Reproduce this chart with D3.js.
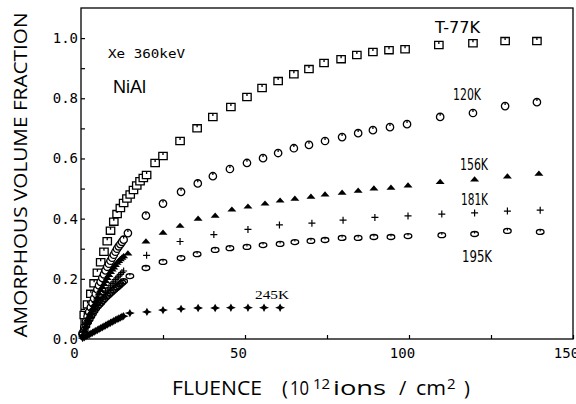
<!DOCTYPE html>
<html>
<head>
<meta charset="utf-8">
<script src="https://cdn.jsdelivr.net/npm/d3@7"></script>
<style>
  body { margin: 0; background: #fff; }
  svg { display: block; }
</style>
</head>
<body>
<div id="chart"></div>
<script>
// fluence (10^12 ions/cm2) and amorphous volume fraction, one pair of arrays per temperature
var x77 = [1, 2, 3, 4, 5, 6, 7, 8, 9, 10, 11, 12, 13, 14, 15, 16, 17, 18, 19, 20, 22.6, 25, 30.2, 35.4, 40.2, 45.7, 50.6, 55.2, 60.1, 64.9, 69.5, 74.1, 79.3, 84.1, 89.0, 93.9, 98.8, 109.1, 119.5, 129.3, 139.0];
var y77 = [0.08, 0.115, 0.15, 0.185, 0.22, 0.255, 0.29, 0.325, 0.36, 0.39, 0.415, 0.435, 0.452, 0.467, 0.48, 0.495, 0.51, 0.524, 0.535, 0.545, 0.585, 0.608, 0.658, 0.70, 0.738, 0.771, 0.804, 0.834, 0.857, 0.880, 0.897, 0.917, 0.930, 0.944, 0.954, 0.960, 0.963, 0.977, 0.983, 0.99, 0.99];

var x120 = [0.5, 1, 1.5, 2, 2.5, 3, 3.5, 4, 4.5, 5, 5.5, 6, 6.5, 7, 7.5, 8, 8.5, 9, 9.5, 10, 10.5, 11, 11.5, 12, 12.5, 13, 14.3, 19.8, 25.0, 30.5, 35.6, 40.2, 45.4, 50.6, 55.5, 60.1, 64.9, 69.5, 74.4, 79.6, 84.5, 89.0, 94.2, 99.4, 109.5, 119.5, 129.3, 139.0];
var y120 = [0.02, 0.04, 0.058, 0.075, 0.09, 0.105, 0.12, 0.135, 0.15, 0.165, 0.178, 0.19, 0.203, 0.215, 0.228, 0.24, 0.25, 0.26, 0.27, 0.28, 0.29, 0.3, 0.308, 0.315, 0.323, 0.33, 0.352, 0.41, 0.45, 0.489, 0.517, 0.541, 0.565, 0.585, 0.601, 0.618, 0.634, 0.645, 0.658, 0.671, 0.684, 0.694, 0.704, 0.714, 0.738, 0.751, 0.774, 0.787];

var x156 = [0.5, 1, 1.5, 2, 2.5, 3, 3.5, 4, 4.5, 5, 5.5, 6, 6.5, 7, 7.5, 8, 8.5, 9, 9.5, 10, 10.5, 11, 11.5, 12, 12.5, 13, 14.3, 19.8, 25.0, 30.2, 35.7, 40.9, 46.0, 50.9, 56.1, 60.7, 65.2, 70.1, 74.4, 79.6, 84.5, 89.3, 94.5, 99.7, 109.5, 120, 130, 139.6];
var y156 = [0.015, 0.03, 0.045, 0.06, 0.075, 0.09, 0.103, 0.115, 0.128, 0.14, 0.153, 0.165, 0.175, 0.185, 0.195, 0.205, 0.215, 0.225, 0.233, 0.24, 0.248, 0.255, 0.261, 0.267, 0.272, 0.277, 0.286, 0.326, 0.355, 0.378, 0.402, 0.412, 0.432, 0.442, 0.452, 0.462, 0.468, 0.475, 0.482, 0.488, 0.495, 0.502, 0.505, 0.512, 0.524, 0.532, 0.542, 0.551];

var x181 = [0.5, 1, 1.5, 2, 2.5, 3, 3.5, 4, 4.5, 5, 5.5, 6, 6.5, 7, 7.5, 8, 8.5, 9, 9.5, 10, 10.5, 11, 11.5, 12, 12.5, 13, 20, 30.2, 40.5, 50.9, 60.5, 70.4, 79.9, 89.6, 99.7, 110, 120, 130, 140];
var y181 = [0.013, 0.025, 0.038, 0.05, 0.061, 0.072, 0.083, 0.093, 0.103, 0.112, 0.121, 0.13, 0.139, 0.147, 0.155, 0.162, 0.17, 0.177, 0.184, 0.19, 0.197, 0.203, 0.209, 0.215, 0.221, 0.226, 0.278, 0.324, 0.347, 0.364, 0.379, 0.385, 0.395, 0.404, 0.409, 0.415, 0.419, 0.425, 0.428];

var x195 = [0.5, 1, 1.5, 2, 2.5, 3, 3.5, 4, 4.5, 5, 5.5, 6, 6.5, 7, 7.5, 8, 8.5, 9, 9.5, 10, 10.5, 11, 11.5, 12, 12.5, 13, 14.9, 19.8, 25.0, 30.5, 35.4, 40.9, 45.4, 50.6, 55.5, 60.7, 65.2, 70.1, 74.4, 79.6, 84.5, 89.3, 94.5, 99.7, 110, 120, 130, 140];
var y195 = [0.016, 0.03, 0.043, 0.055, 0.065, 0.075, 0.084, 0.093, 0.101, 0.108, 0.114, 0.12, 0.126, 0.132, 0.138, 0.143, 0.148, 0.153, 0.158, 0.163, 0.168, 0.172, 0.177, 0.182, 0.187, 0.192, 0.209, 0.236, 0.256, 0.269, 0.282, 0.296, 0.302, 0.306, 0.312, 0.316, 0.322, 0.326, 0.329, 0.336, 0.336, 0.339, 0.339, 0.342, 0.345, 0.349, 0.359, 0.356];

var x245 = [0.5, 1, 1.5, 2, 2.5, 3, 3.5, 4, 4.5, 5, 5.5, 6, 6.5, 7, 7.5, 8, 8.5, 9, 9.5, 10, 10.5, 11, 11.5, 12, 12.5, 13, 14.9, 20.1, 25.0, 30.5, 35.7, 40.9, 45.7, 50.9, 55.8, 60.7];
var y245 = [0.003, 0.006, 0.009, 0.012, 0.015, 0.018, 0.021, 0.024, 0.027, 0.03, 0.033, 0.036, 0.039, 0.042, 0.045, 0.048, 0.051, 0.054, 0.057, 0.06, 0.063, 0.066, 0.068, 0.071, 0.074, 0.076, 0.086, 0.09, 0.096, 0.1, 0.103, 0.103, 0.104, 0.104, 0.104, 0.104];

var xTickLabels = [0, 50, 100, 150];
var yTickLabels = [0, 0.2, 0.4, 0.6, 0.8, 1.0];

var width = 576, height = 404;
var x = d3.scaleLinear().domain([0, 150]).range([81, 573]);
var y = d3.scaleLinear().domain([0, 1.1]).range([339, 8]);

var svg = d3.select("#chart").append("svg")
  .attr("width", width)
  .attr("height", height);

// frame
svg.append("rect")
  .attr("x", x(0)).attr("y", y(1.1))
  .attr("width", x(150) - x(0)).attr("height", y(0) - y(1.1))
  .attr("fill", "none").attr("stroke", "#000").attr("stroke-width", 1.3);

var mono = "'DejaVu Sans Mono', 'Liberation Mono', monospace";

var xAxis = d3.axisBottom(x)
  .tickValues(d3.range(0, 151, 25))
  .tickSize(-4).tickSizeOuter(0).tickPadding(9)
  .tickFormat(function (d) { return xTickLabels.indexOf(d) >= 0 ? d3.format("d")(d) : ""; });

var yAxis = d3.axisLeft(y)
  .tickValues(d3.range(0, 11).map(function (i) { return i / 10; }))
  .tickSize(-4).tickSizeOuter(0).tickPadding(3)
  .tickFormat(function (d) {
    return yTickLabels.some(function (v) { return Math.abs(v - d) < 1e-6; }) ? d3.format(".1f")(d) : "";
  });

var gx = svg.append("g").attr("transform", "translate(0," + y(0) + ")").call(xAxis);
var gy = svg.append("g").attr("transform", "translate(" + x(0) + ",0)").call(yAxis);
[gx, gy].forEach(function (g) {
  g.select(".domain").remove();
  g.selectAll("line").attr("stroke", "#000").attr("stroke-width", 1.2);
  g.selectAll("text").attr("fill", "#000").style("font-family", mono).style("font-size", "14px");
});
gx.selectAll("text").attr("dx", -7);

// marker shapes
function pts(xs, ys) { return xs.map(function (v, i) { return [v, ys[i]]; }); }

function plot(data, cls, draw) {
  var g = svg.append("g").attr("class", cls);
  g.selectAll("g").data(data).enter().append("g")
    .attr("transform", function (d) { return "translate(" + x(d[0]) + "," + y(d[1]) + ")"; })
    .each(function () { draw(d3.select(this)); });
}

plot(pts(x77, y77), "t77", function (s) {
  s.append("path").attr("d", "M-4.2,-3.6h8.4v7.2h-8.4z M0,-3.6v2.6")
    .attr("fill", "#fff").attr("stroke", "#000").attr("stroke-width", 1.3);
});
plot(pts(x120, y120), "t120", function (s) {
  s.append("circle").attr("r", 3.7)
    .attr("fill", "#fff").attr("stroke", "#000").attr("stroke-width", 1.3);
  s.append("path").attr("d", "M0,-3.7v2.6").attr("stroke", "#000").attr("stroke-width", 1.3);
});
plot(pts(x156, y156), "t156", function (s) {
  s.append("path").attr("d", "M-4.5,2.6L0,-2.6L4.5,2.6Z").attr("fill", "#000");
});
plot(pts(x181, y181), "t181", function (s) {
  s.append("path").attr("d", "M-3.5,0h7M0,-3.5v7").attr("stroke", "#000").attr("stroke-width", 1.2);
});
plot(pts(x195, y195), "t195", function (s) {
  s.append("ellipse").attr("rx", 3.8).attr("ry", 2.5)
    .attr("fill", "none").attr("stroke", "#000").attr("stroke-width", 1.3);
  s.append("path").attr("d", "M0,-2.5v2").attr("stroke", "#000").attr("stroke-width", 1.2);
});
plot(pts(x245, y245), "t245", function (s) {
  s.append("path").attr("d", "M0,-4.2L1.5,-1.4L5,0L1.5,1.4L0,4.2L-1.5,1.4L-5,0L-1.5,-1.4Z").attr("fill", "#000");
});

// series labels
var labelFont = "'Liberation Sans Narrow', 'DejaVu Sans Condensed', 'DejaVu Sans', sans-serif";
var labels = [
  { t: "T-77K", x: 435, y: 33, w: 45 },
  { t: "120K", x: 453, y: 100, w: 28 },
  { t: "156K", x: 460, y: 170, w: 28 },
  { t: "181K", x: 461, y: 205, w: 27 },
  { t: "195K", x: 462, y: 262, w: 30 }
];
svg.selectAll(".lab").data(labels).enter().append("text")
  .attr("class", "lab")
  .attr("x", function (d) { return d.x; })
  .attr("y", function (d) { return d.y; })
  .attr("textLength", function (d) { return d.w; })
  .attr("lengthAdjust", "spacingAndGlyphs")
  .style("font-family", labelFont).style("font-size", "16px")
  .text(function (d) { return d.t; });

svg.append("text")
  .attr("x", 255).attr("y", 299)
  .attr("textLength", 34).attr("lengthAdjust", "spacingAndGlyphs")
  .style("font-family", "'Liberation Serif', serif").style("font-size", "13px")
  .text("245K");

svg.append("text")
  .attr("x", 108).attr("y", 58)
  .attr("textLength", 77).attr("lengthAdjust", "spacingAndGlyphs")
  .style("font-family", mono).style("font-size", "13px")
  .text("Xe 360keV");

svg.append("text")
  .attr("x", 113).attr("y", 93)
  .style("font-family", "'Liberation Sans', sans-serif").style("font-size", "18px")
  .text("NiAl");

// axis titles
var titleFont = "'Open Sans', 'Liberation Sans', sans-serif";
svg.append("text")
  .attr("transform", "translate(27,175) rotate(-90)")
  .attr("text-anchor", "middle")
  .attr("textLength", 325).attr("lengthAdjust", "spacingAndGlyphs")
  .style("font-family", titleFont).style("font-size", "18px")
  .text("AMORPHOUS VOLUME FRACTION");

var xt = svg.append("text")
  .attr("y", 395)
  .style("font-family", titleFont).style("font-size", "20px");
xt.append("tspan").attr("x", 172).attr("textLength", 90).attr("lengthAdjust", "spacingAndGlyphs").text("FLUENCE");
xt.append("tspan").attr("x", 282).text("(");
xt.append("tspan").attr("x", 290).attr("textLength", 19).attr("lengthAdjust", "spacingAndGlyphs").text("10");
xt.append("tspan").attr("x", 313).attr("y", 389).style("font-size", "15px").text("12");
xt.append("tspan").attr("x", 333).attr("y", 395).attr("textLength", 53).attr("lengthAdjust", "spacingAndGlyphs").text("ions");
xt.append("tspan").attr("x", 399).text("/");
xt.append("tspan").attr("x", 416).attr("textLength", 30).attr("lengthAdjust", "spacingAndGlyphs").text("cm");
xt.append("tspan").attr("x", 447).attr("y", 389).style("font-size", "15px").text("2");
xt.append("tspan").attr("x", 464).attr("y", 395).text(")");
</script>
</body>
</html>
